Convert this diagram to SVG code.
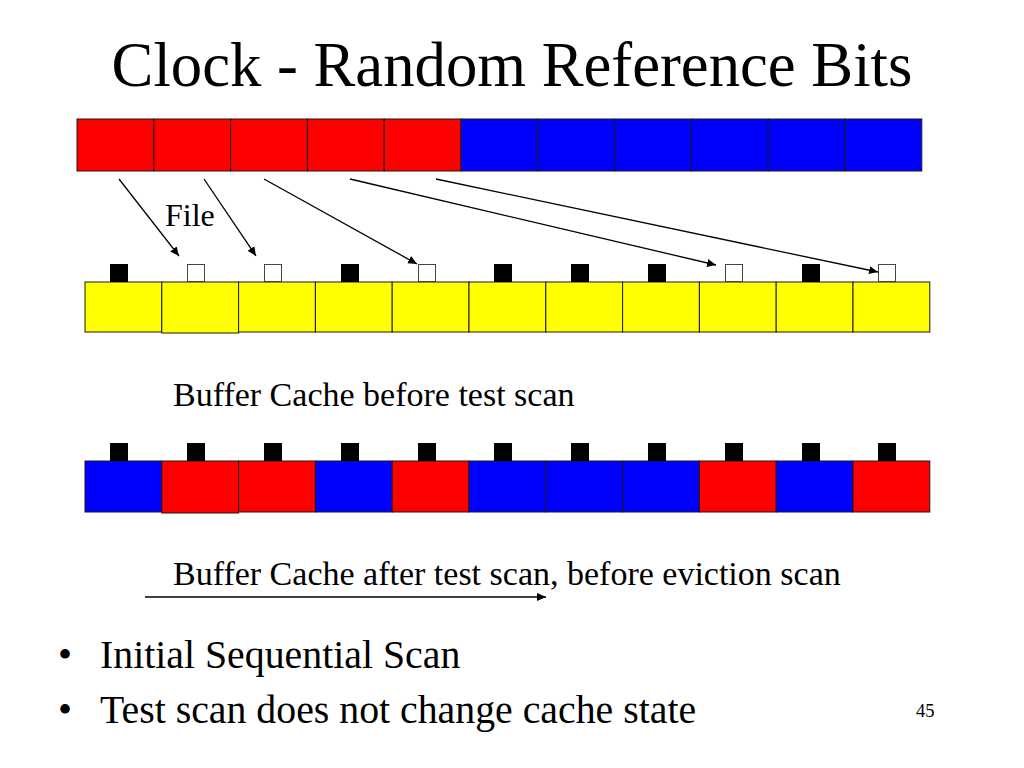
<svg xmlns="http://www.w3.org/2000/svg" width="1024" height="768" viewBox="0 0 1024 768">
<style>
text{font-family:"Liberation Serif","Times New Roman",serif;fill:#000}
.cell{stroke:#1a1a1a;stroke-width:1}
.r{fill:#ff0000}.b{fill:#0000ff}.y{fill:#ffff00}
.bk{fill:#000;stroke:#000;stroke-width:1}
.wh{fill:#fff;stroke:#444;stroke-width:1}
.conn{stroke:#000;stroke-width:1.3;fill:none;marker-end:url(#ah)}
</style>
<defs>
<marker id="ah" viewBox="0 0 10 10" refX="10" refY="5" markerWidth="9" markerHeight="9" markerUnits="userSpaceOnUse" orient="auto">
<path d="M0,0.5 L10,5 L0,9.5 z" fill="#000"/>
</marker>
</defs>
<rect width="1024" height="768" fill="#fff"/>
<text x="512" y="86" font-size="62.7" text-anchor="middle">Clock - Random Reference Bits</text>

<g id="file">
<rect class="cell r" x="77" y="119" width="76.8" height="52"/>
<rect class="cell r" x="153.8" y="119" width="76.8" height="52"/>
<rect class="cell r" x="230.6" y="119" width="76.8" height="52"/>
<rect class="cell r" x="307.4" y="119" width="76.8" height="52"/>
<rect class="cell r" x="384.2" y="119" width="76.8" height="52"/>
<rect class="cell b" x="461" y="119" width="76.8" height="52"/>
<rect class="cell b" x="537.8" y="119" width="76.8" height="52"/>
<rect class="cell b" x="614.6" y="119" width="76.8" height="52"/>
<rect class="cell b" x="691.4" y="119" width="76.8" height="52"/>
<rect class="cell b" x="768.2" y="119" width="76.8" height="52"/>
<rect class="cell b" x="845" y="119" width="76.8" height="52"/>
</g>
<text x="165" y="226" font-size="32">File</text>

<g id="cache-before">
<rect class="cell y" x="85" y="282" width="76.8" height="50"/>
<rect class="cell y" x="161.8" y="282" width="76.8" height="51"/>
<rect class="cell y" x="238.6" y="282" width="76.8" height="50"/>
<rect class="cell y" x="315.4" y="282" width="76.8" height="50"/>
<rect class="cell y" x="392.2" y="282" width="76.8" height="50"/>
<rect class="cell y" x="469" y="282" width="76.8" height="50"/>
<rect class="cell y" x="545.8" y="282" width="76.8" height="50"/>
<rect class="cell y" x="622.6" y="282" width="76.8" height="50"/>
<rect class="cell y" x="699.4" y="282" width="76.8" height="50"/>
<rect class="cell y" x="776.2" y="282" width="76.8" height="50"/>
<rect class="cell y" x="853" y="282" width="76.8" height="50"/>
<rect class="bk" x="110.5" y="264.5" width="17" height="17"/>
<rect class="wh" x="187.5" y="264.5" width="17" height="17"/>
<rect class="wh" x="264.5" y="264.5" width="17" height="17"/>
<rect class="bk" x="341.5" y="264.5" width="17" height="17"/>
<rect class="wh" x="418.5" y="264.5" width="17" height="17"/>
<rect class="bk" x="494.5" y="264.5" width="17" height="17"/>
<rect class="bk" x="571.5" y="264.5" width="17" height="17"/>
<rect class="bk" x="648.5" y="264.5" width="17" height="17"/>
<rect class="wh" x="725.5" y="264.5" width="17" height="17"/>
<rect class="bk" x="802.5" y="264.5" width="17" height="17"/>
<rect class="wh" x="878.5" y="264.5" width="17" height="17"/>
</g>
<text x="173" y="406" font-size="34">Buffer Cache before test scan</text>

<g id="cache-after">
<rect class="cell b" x="85" y="461" width="76.8" height="51"/>
<rect class="cell r" x="161.8" y="461" width="76.8" height="52"/>
<rect class="cell r" x="238.6" y="461" width="76.8" height="51"/>
<rect class="cell b" x="315.4" y="461" width="76.8" height="51"/>
<rect class="cell r" x="392.2" y="461" width="76.8" height="51"/>
<rect class="cell b" x="469" y="461" width="76.8" height="51"/>
<rect class="cell b" x="545.8" y="461" width="76.8" height="51"/>
<rect class="cell b" x="622.6" y="461" width="76.8" height="51"/>
<rect class="cell r" x="699.4" y="461" width="76.8" height="51"/>
<rect class="cell b" x="776.2" y="461" width="76.8" height="51"/>
<rect class="cell r" x="853" y="461" width="76.8" height="51"/>
<rect class="bk" x="110.5" y="443.5" width="17" height="17"/>
<rect class="bk" x="187.5" y="443.5" width="17" height="17"/>
<rect class="bk" x="264.5" y="443.5" width="17" height="17"/>
<rect class="bk" x="341.5" y="443.5" width="17" height="17"/>
<rect class="bk" x="418.5" y="443.5" width="17" height="17"/>
<rect class="bk" x="494.5" y="443.5" width="17" height="17"/>
<rect class="bk" x="571.5" y="443.5" width="17" height="17"/>
<rect class="bk" x="648.5" y="443.5" width="17" height="17"/>
<rect class="bk" x="725.5" y="443.5" width="17" height="17"/>
<rect class="bk" x="802.5" y="443.5" width="17" height="17"/>
<rect class="bk" x="878.5" y="443.5" width="17" height="17"/>
</g>
<text x="173" y="585" font-size="34">Buffer Cache after test scan, before eviction scan</text>

<g id="connectors">
<line class="conn" x1="119" y1="179" x2="179" y2="256"/>
<line class="conn" x1="204" y1="179" x2="256" y2="256"/>
<line class="conn" x1="264" y1="179" x2="417" y2="264"/>
<line class="conn" x1="350" y1="179" x2="716" y2="265"/>
<line class="conn" x1="436" y1="179" x2="878" y2="272"/>
<line class="conn" x1="145" y1="597" x2="546" y2="597"/>
</g>

<text x="58" y="668" font-size="40">•</text>
<text x="100" y="668" font-size="39.8">Initial Sequential Scan</text>
<text x="58" y="723" font-size="40">•</text>
<text x="100" y="723" font-size="39.8">Test scan does not change cache state</text>
<text x="916" y="717" font-size="18.5">45</text>
</svg>
